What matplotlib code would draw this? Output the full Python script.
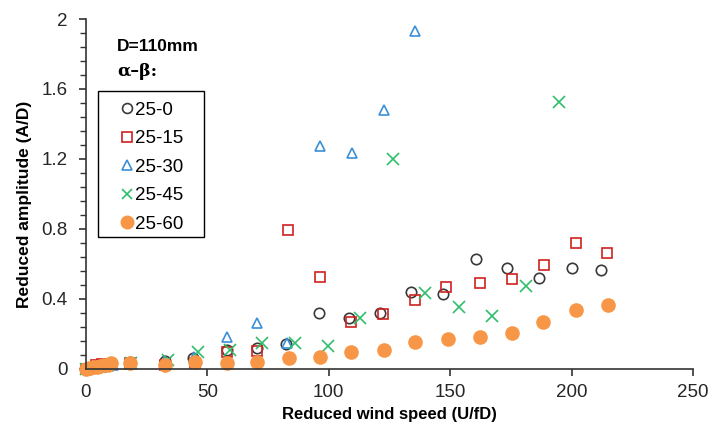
import numpy as np
import matplotlib.pyplot as plt
from matplotlib.patches import Rectangle
from matplotlib.ticker import MultipleLocator, FuncFormatter

plt.rcParams['font.family'] = ['Liberation Sans', 'DejaVu Sans']

# 25-0 (open circles)
x_0 = [0, 3, 6, 9, 18, 32.5, 44, 58, 70.5, 82.3, 95.8, 108.2, 121, 134, 146.9,
       160.5, 173.5, 186.6, 200, 212]
y_0 = [0, 0.01, 0.015, 0.02, 0.04, 0.045, 0.06, 0.109, 0.118, 0.143, 0.318, 0.29,
       0.318, 0.438, 0.429, 0.627, 0.575, 0.522, 0.575, 0.564]

# 25-15 (open squares)
x_15 = [0, 4, 6.5, 9, 18, 32.5, 45, 58, 70.5, 83.4, 96.6, 109.3, 122.5, 135.5,
        148.4, 162.1, 175.3, 188.8, 201.9, 214.8]
y_15 = [0, 0.025, 0.03, 0.03, 0.035, 0.02, 0.033, 0.099, 0.105, 0.796, 0.524, 0.267,
        0.312, 0.394, 0.467, 0.49, 0.516, 0.592, 0.722, 0.661]

# 25-30 (open triangles)
x_30 = [0, 3, 6, 9, 11, 18, 32.5, 44.5, 57.9, 70.5, 82.8, 96.4, 109.5, 122.6, 135.7]
y_30 = [0, 0.005, 0.01, 0.015, 0.02, 0.03, 0.045, 0.07, 0.181, 0.261, 0.147,
        1.276, 1.233, 1.48, 1.93]

# 25-45 (crosses)
x_45 = [0, 3, 6, 9, 18.5, 34, 46.2, 59.3, 72.7, 86, 99.5, 112.8, 126.3, 139.8,
        153.5, 167.4, 181.1, 194.9]
y_45 = [0, 0.005, 0.01, 0.02, 0.035, 0.05, 0.095, 0.109, 0.15, 0.147, 0.132, 0.29,
        1.198, 0.436, 0.352, 0.303, 0.474, 1.527]

# 25-60 (filled circles)
x_60 = [0, 1.5, 3, 4.5, 6, 7.5, 9, 10.5, 18, 32.5, 45, 57.9, 70.5, 83.5, 96.6,
        109.3, 122.8, 135.5, 149, 162.3, 175.4, 188.2, 201.9, 214.9]
y_60 = [0, 0.005, 0.01, 0.012, 0.015, 0.02, 0.025, 0.035, 0.033, 0.025, 0.038,
        0.032, 0.038, 0.065, 0.07, 0.095, 0.109, 0.152, 0.173, 0.181, 0.208, 0.269,
        0.337, 0.364]

fig = plt.figure(figsize=(7.1, 4.32), dpi=100)
ax = fig.add_axes([0.121, 0.146, 0.855, 0.81])

ax.plot(x_0, y_0, 'o', ls='none', ms=7.5, mfc='none', mec='#3a3a3a', mew=1.2,
        label='25-0', clip_on=False)
ax.plot(x_15, y_15, 's', ls='none', ms=7.5, mfc='none', mec='#d02020', mew=1.2,
        label='25-15', clip_on=False)
ax.plot(x_30, y_30, '^', ls='none', ms=7.5, mfc='none', mec='#3b8fd9', mew=1.2,
        label='25-30', clip_on=False)
ax.plot(x_45, y_45, 'x', ls='none', ms=8, mec='#2fbf6a', mew=1.2,
        label='25-45', clip_on=False)
ax.plot(x_60, y_60, 'o', ls='none', ms=9.5, mfc='#f79646', mec='#f79646',
        label='25-60', clip_on=False)

ax.set_xlim(0, 250)
ax.set_ylim(0, 2)
ax.xaxis.set_major_locator(MultipleLocator(50))
ax.yaxis.set_major_locator(MultipleLocator(0.4))
ax.yaxis.set_minor_locator(MultipleLocator(0.08))
ax.yaxis.set_major_formatter(FuncFormatter(lambda v, p: f"{v:g}"))

for s in ('top', 'right'):
    ax.spines[s].set_visible(False)
for s in ('left', 'bottom'):
    ax.spines[s].set_linewidth(1.2)
    ax.spines[s].set_color('#333333')
ax.tick_params(axis='both', which='major', direction='out', length=5, width=1.2,
               labelsize=13.5, colors='#333333', labelcolor='#262626')
ax.tick_params(axis='y', which='major', pad=8)
ax.tick_params(axis='x', which='major', pad=6)
ax.tick_params(axis='y', which='minor', direction='out', length=4, width=1.0,
               colors='#333333')

ax.set_xlabel('Reduced wind speed (U/fD)', fontsize=12, fontweight='bold', labelpad=4)
ax.set_ylabel('Reduced amplitude (A/D)', fontsize=12.5, fontweight='bold')
ax.yaxis.set_label_coords(-0.089, 0.469)

ax.text(0.051, 0.921, 'D=110mm', transform=ax.transAxes, fontsize=12.5,
        fontweight='bold', va='center', ha='left')
ax.text(0.051, 0.851, 'α–β:', transform=ax.transAxes, fontsize=12.5,
        fontweight='bold', va='center', ha='left', family='DejaVu Serif')

# legend frame drawn separately (Excel-style wide padding)
ax.add_patch(Rectangle((0.0198, 0.377), 0.1745, 0.417, transform=ax.transAxes,
                       fill=False, edgecolor='black', lw=1.0, clip_on=False,
                       zorder=5))
leg = ax.legend(loc='upper left', bbox_to_anchor=(0.049, 0.78), borderaxespad=0,
                fontsize=13.5, frameon=False, handlelength=0.6,
                handletextpad=0.15, labelspacing=0.61, borderpad=0.3,
                markerscale=0.95)

fig.savefig('out.png', dpi=100)
